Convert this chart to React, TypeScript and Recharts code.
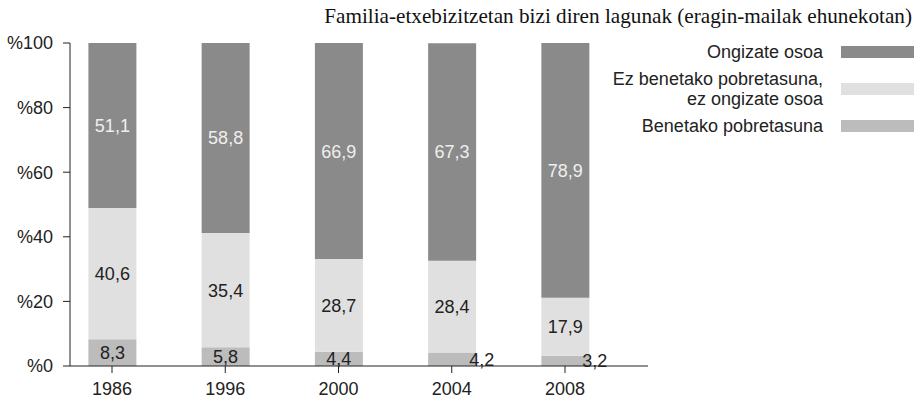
import React from 'react';
import { BarChart, Bar, XAxis, YAxis, LabelList } from 'recharts';

const years = ['1986', '1996', '2000', '2004', '2008'];
const poverty = [8.3, 5.8, 4.4, 4.2, 3.2];
const middle = [40.6, 35.4, 28.7, 28.4, 17.9];
const wellbeing = [51.1, 58.8, 66.9, 67.3, 78.9];
const yTicks = [0, 20, 40, 60, 80, 100];
const seriesKeys = ['poverty', 'middle', 'wellbeing'];
const seriesNames = ['Benetako pobretasuna', 'Ez benetako pobretasuna,\nez ongizate osoa', 'Ongizate osoa'];
const seriesColors = ['#bcbcbc', '#e0e0e0', '#8a8a8a'];
const title = 'Familia-etxebizitzetan bizi diren lagunak (eragin-mailak ehunekotan)';

const data = years.map((y, i) => ({
  idx: i,
  year: y,
  poverty: poverty[i],
  middle: middle[i],
  wellbeing: wellbeing[i],
}));

const SANS = '"Liberation Sans", Arial, Helvetica, sans-serif';
const fmt = (v: number) => v.toFixed(1).replace('.', ',');

const makeLabel = (color: string, allowOutside: boolean) => (props: any) => {
  const { x, y, width, height, value } = props;
  const xx = Number(x), yy = Number(y), w = Number(width), h = Number(height);
  const outside = allowOutside && value < 4.3;
  const tx = outside ? xx + w - 7 : xx + w / 2;
  return (
    <text
      x={tx}
      y={yy + h / 2}
      dy="0.36em"
      textAnchor={outside ? 'start' : 'middle'}
      fill={color}
      fontSize={18}
      fontFamily={SANS}
    >
      {fmt(Number(value))}
    </text>
  );
};

const labelColors = ['#222', '#222', '#efefef'];

export default function App() {
  const legendOrder = [2, 1, 0];
  return (
    <div style={{ position: 'absolute', left: 0, top: 0, width: 919, height: 400, fontFamily: SANS, background: '#fff' }}>
      <div
        style={{
          position: 'absolute',
          right: 7,
          top: 5,
          fontFamily: '"Liberation Serif", "Times New Roman", serif',
          fontSize: 21.2,
          lineHeight: '22px',
          color: '#111',
          whiteSpace: 'nowrap',
        }}
      >
        {title}
      </div>
      <div style={{ position: 'absolute', right: 5, top: 42, display: 'flex', flexDirection: 'column', gap: 7 }}>
        {legendOrder.map((i) => (
          <div key={i} style={{ display: 'flex', alignItems: 'center', justifyContent: 'flex-end' }}>
            <div style={{ textAlign: 'right', fontSize: 18, lineHeight: '20px', color: '#222', whiteSpace: 'pre' }}>
              {seriesNames[i]}
            </div>
            <div style={{ width: 73, height: 12, background: seriesColors[i], marginLeft: 18 }} />
          </div>
        ))}
      </div>
      <BarChart
        width={919}
        height={400}
        data={data}
        margin={{ top: 43, right: 271, bottom: 0, left: 0 }}
      >
        <XAxis
          type="number"
          dataKey="idx"
          domain={[-0.371, 4.733]}
          ticks={[0, 1, 2, 3, 4]}
          interval={0}
          tickFormatter={(i: number) => years[i]}
          height={34}
          stroke="#222"
          tickSize={7}
          tickMargin={9}
          tick={{ fill: '#222', fontSize: 18, fontFamily: SANS }}
          allowDataOverflow
        />
        <YAxis
          type="number"
          domain={[0, 100]}
          ticks={yTicks}
          interval={0}
          tickFormatter={(v: number) => '%' + v}
          width={70}
          stroke="#222"
          tickSize={7}
          tickMargin={10}
          tick={{ fill: '#222', fontSize: 18, fontFamily: SANS }}
        />
        {seriesKeys.map((k, i) => (
          <Bar
            key={k}
            dataKey={k}
            name={seriesNames[i]}
            stackId="a"
            fill={seriesColors[i]}
            barSize={48}
            isAnimationActive={false}
          >
            <LabelList dataKey={k} content={makeLabel(labelColors[i], i === 0)} />
          </Bar>
        ))}
      </BarChart>
    </div>
  );
}
